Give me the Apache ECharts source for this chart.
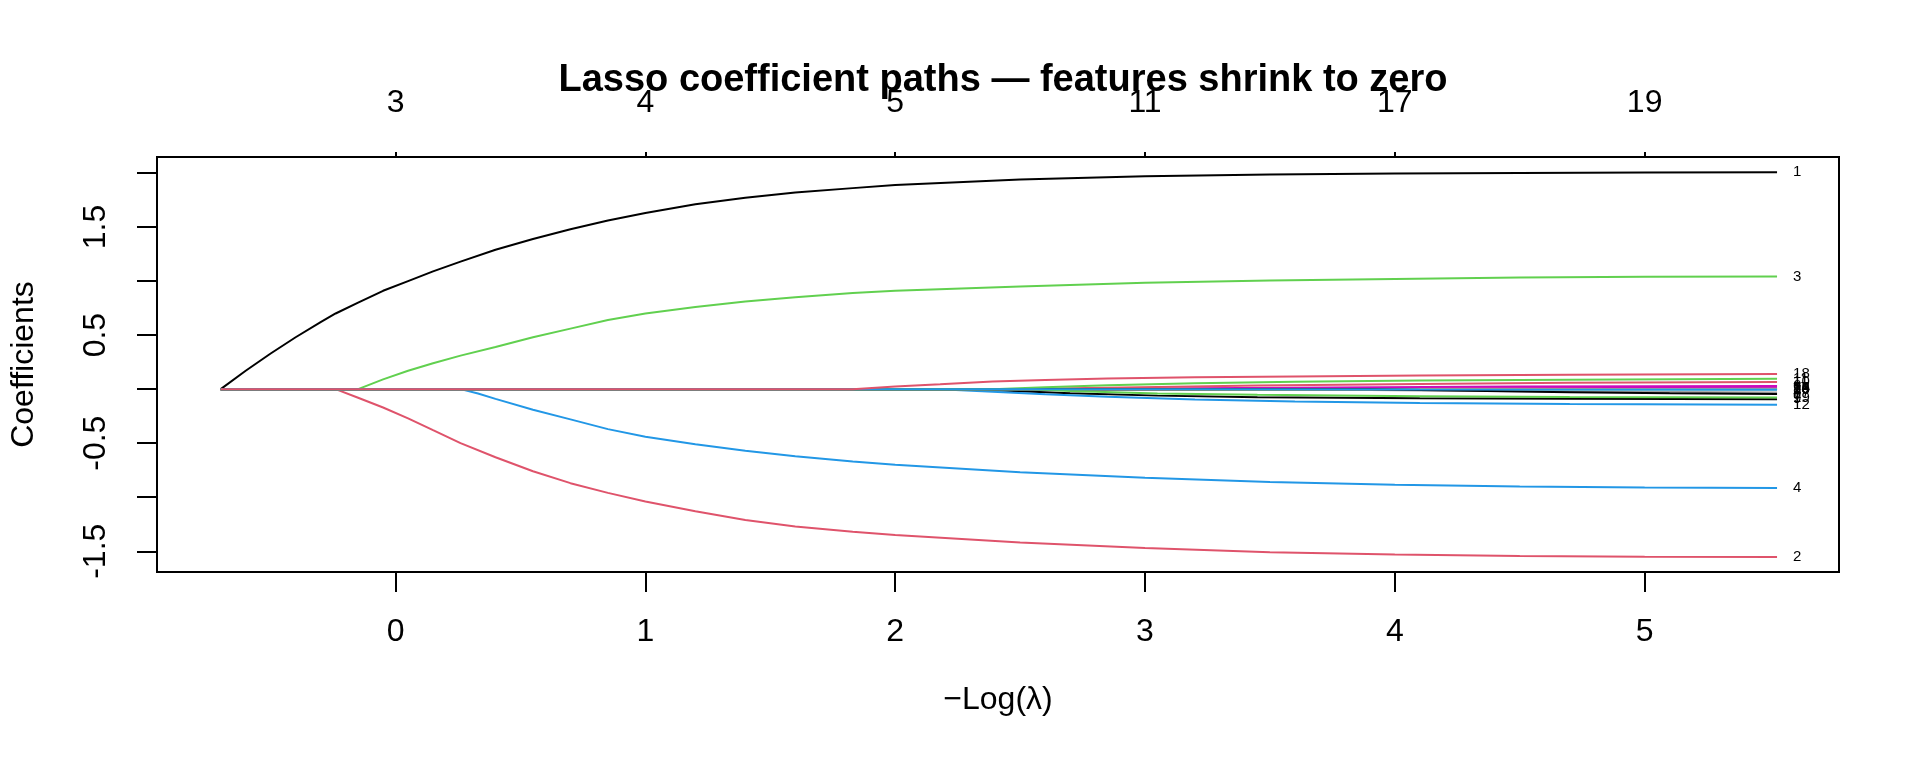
<!DOCTYPE html>
<html>
<head>
<meta charset="utf-8">
<script src="https://cdn.jsdelivr.net/npm/echarts@6/dist/echarts.min.js"></script>
<style>
html,body{margin:0;padding:0;background:#fff;}
#chart{width:1920px;height:768px;}
</style>
</head>
<body>
<div id="chart"></div>
<script>
// -Log(lambda) range and tick labels
const xTicks = [0, 1, 2, 3, 4, 5];
const dfLabels = ['3', '4', '5', '11', '17', '19'];
const yTicks = [-1.5, -1.0, -0.5, 0, 0.5, 1.0, 1.5, 2.0];
const yLabelTicks = [-1.5, -0.5, 0.5, 1.5];

// coefficient paths: [ -log(lambda), coefficient ]
const path1 = [[-0.70,0],[-0.60,0.17],[-0.50,0.33],[-0.40,0.48],[-0.30,0.62],[-0.24,0.70],[-0.15,0.80],[-0.05,0.91],[0.05,1.00],[0.15,1.09],[0.26,1.18],[0.40,1.29],[0.55,1.39],[0.70,1.48],[0.85,1.56],[1.00,1.63],[1.20,1.71],[1.40,1.77],[1.60,1.82],[1.83,1.86],[2.00,1.89],[2.50,1.94],[3.00,1.97],[3.50,1.985],[4.00,1.995],[4.50,2.00],[5.00,2.004],[5.53,2.006]];
const path2 = [[-0.70,0],[-0.24,0],[-0.15,-0.08],[-0.05,-0.17],[0.05,-0.27],[0.15,-0.38],[0.26,-0.50],[0.40,-0.63],[0.55,-0.76],[0.70,-0.87],[0.85,-0.96],[1.00,-1.04],[1.20,-1.13],[1.40,-1.21],[1.60,-1.27],[1.83,-1.32],[2.00,-1.35],[2.50,-1.42],[3.00,-1.47],[3.50,-1.51],[4.00,-1.53],[4.50,-1.545],[5.00,-1.55],[5.53,-1.553]];
const path3 = [[-0.70,0],[-0.15,0],[-0.05,0.09],[0.05,0.17],[0.15,0.24],[0.26,0.31],[0.40,0.39],[0.55,0.48],[0.70,0.56],[0.85,0.64],[1.00,0.70],[1.20,0.76],[1.40,0.81],[1.60,0.85],[1.83,0.89],[2.00,0.91],[2.50,0.95],[3.00,0.985],[3.50,1.005],[4.00,1.02],[4.50,1.032],[5.00,1.04],[5.53,1.043]];
const path4 = [[-0.70,0],[0.26,0],[0.33,-0.04],[0.40,-0.09],[0.55,-0.19],[0.70,-0.28],[0.85,-0.37],[1.00,-0.44],[1.20,-0.51],[1.40,-0.57],[1.60,-0.62],[1.83,-0.67],[2.00,-0.70],[2.50,-0.77],[3.00,-0.82],[3.50,-0.86],[4.00,-0.885],[4.50,-0.90],[5.00,-0.91],[5.53,-0.914]];
const path5 = [[-0.70,0],[3.45,0],[4.10,0.001],[4.70,0.002],[5.53,0.003]];
const path6 = [[-0.70,0],[2.75,0],[3.20,0.008],[3.75,0.016],[4.50,0.024],[5.53,0.030]];
const path7 = [[-0.70,0],[3.75,0],[4.30,0.003],[4.90,0.005],[5.53,0.006]];
const path8 = [[-0.70,0],[3.60,0],[4.10,-0.012],[4.70,-0.022],[5.53,-0.030]];
const path9 = [[-0.70,0],[2.30,0],[2.50,-0.020],[2.70,-0.038],[3.05,-0.060],[3.45,-0.075],[4.10,-0.085],[4.70,-0.090],[5.53,-0.094]];
const path10 = [[-0.70,0],[2.50,0],[2.70,0.008],[3.05,0.020],[3.45,0.033],[4.10,0.048],[4.70,0.058],[5.53,0.066]];
const path11 = [[-0.70,0],[2.39,0],[2.60,0.018],[2.85,0.035],[3.20,0.055],[3.60,0.068],[4.10,0.080],[4.70,0.088],[5.53,0.095]];
const path12 = [[-0.70,0],[2.18,0],[2.39,-0.025],[2.60,-0.048],[2.85,-0.070],[3.20,-0.095],[3.60,-0.115],[4.10,-0.128],[4.70,-0.138],[5.53,-0.145]];
const path13 = [[-0.70,0],[4.30,0],[4.90,-0.001],[5.53,-0.002]];
const path14 = [[-0.70,0],[3.05,0],[3.60,0.004],[4.30,0.008],[5.53,0.012]];
const path15 = [[-0.70,0],[5.53,0]];
const path16 = [[-0.70,0],[4.70,0],[5.10,0.002],[5.53,0.004]];
const path17 = [[-0.70,0],[3.90,0],[4.30,-0.015],[4.70,-0.028],[5.10,-0.038],[5.53,-0.045]];
const path18 = [[-0.70,0],[1.83,0],[2.00,0.025],[2.18,0.045],[2.39,0.070],[2.60,0.085],[2.85,0.098],[3.20,0.110],[3.60,0.118],[4.10,0.126],[4.70,0.133],[5.53,0.139]];
const path19 = [[-0.70,0],[2.55,0],[2.70,-0.018],[3.05,-0.040],[3.45,-0.053],[4.10,-0.065],[4.70,-0.072],[5.53,-0.077]];
const path20 = [[-0.70,0],[3.20,0],[4.10,-0.003],[5.53,-0.006]];

const paths = [path1,path2,path3,path4,path5,path6,path7,path8,path9,path10,path11,path12,path13,path14,path15,path16,path17,path18,path19,path20];
const palette = ['#000000','#DF536B','#61D04F','#2297E6','#28E2E5','#CD0BBC','#F5C710','#9E9E9E'];

const FONT = 'Liberation Sans, Arial, Helvetica, sans-serif';

const series = paths.map((p, i) => ({
  name: String(i + 1),
  type: 'line',
  data: p,
  showSymbol: false,
  symbol: 'none',
  z: (i === 17) ? 4 : 2,
  lineStyle: { color: palette[i % 8], width: 2 },
  itemStyle: { color: palette[i % 8] },
  endLabel: {
    show: true,
    formatter: '{a}',
    distance: 16,
    color: '#000',
    fontSize: 15,
    fontFamily: FONT
  },
  emphasis: { disabled: true }
}));

const chart = echarts.init(document.getElementById('chart'), null, { renderer: 'canvas' });
chart.setOption({
  animation: false,
  backgroundColor: '#fff',
  title: {
    text: 'Lasso coefficient paths \u2014 features shrink to zero',
    left: 998,
    textAlign: 'center',
    top: 57,
    textStyle: { fontFamily: FONT, fontWeight: 'bold', fontSize: 38, color: '#000' }
  },
  grid: {
    left: 157, right: 81, top: 157, bottom: 196,
    show: true, borderColor: '#000', borderWidth: 2, backgroundColor: 'transparent'
  },
  xAxis: [
    {
      type: 'value', position: 'bottom', min: -0.955, max: 5.778,
      axisLine: { show: false, onZero: false },
      splitLine: { show: false },
      axisTick: { show: true, length: 20, customValues: xTicks, lineStyle: { color: '#000', width: 2 } },
      axisLabel: { customValues: xTicks, margin: 44, fontSize: 32, color: '#000', fontFamily: FONT },
      name: '\u2212Log(\u03bb)', nameLocation: 'middle', nameGap: 112,
      nameTextStyle: { fontSize: 32, color: '#000', fontFamily: FONT }
    },
    {
      type: 'value', position: 'top', min: -0.955, max: 5.778,
      axisLine: { show: false, onZero: false },
      splitLine: { show: false },
      axisTick: { show: true, length: 5, customValues: xTicks, lineStyle: { color: '#000', width: 2 } },
      axisLabel: {
        customValues: xTicks, margin: 38, fontSize: 32, color: '#000', fontFamily: FONT,
        formatter: v => { const k = xTicks.findIndex(t => Math.abs(t - v) < 1e-6); return k >= 0 ? dfLabels[k] : ''; }
      }
    }
  ],
  yAxis: {
    type: 'value', min: -1.692, max: 2.148,
    axisLine: { show: false, onZero: false },
    splitLine: { show: false },
    axisTick: { show: true, length: 20, customValues: yTicks, lineStyle: { color: '#000', width: 2 } },
    axisLabel: { customValues: yLabelTicks, rotate: 90, margin: 45, fontSize: 32, color: '#000', fontFamily: FONT,
      formatter: v => v.toFixed(1) },
    name: 'Coefficients', nameLocation: 'middle', nameGap: 117, nameRotate: 90,
    nameTextStyle: { fontSize: 32, color: '#000', fontFamily: FONT }
  },
  series: series
});
</script>
</body>
</html>
